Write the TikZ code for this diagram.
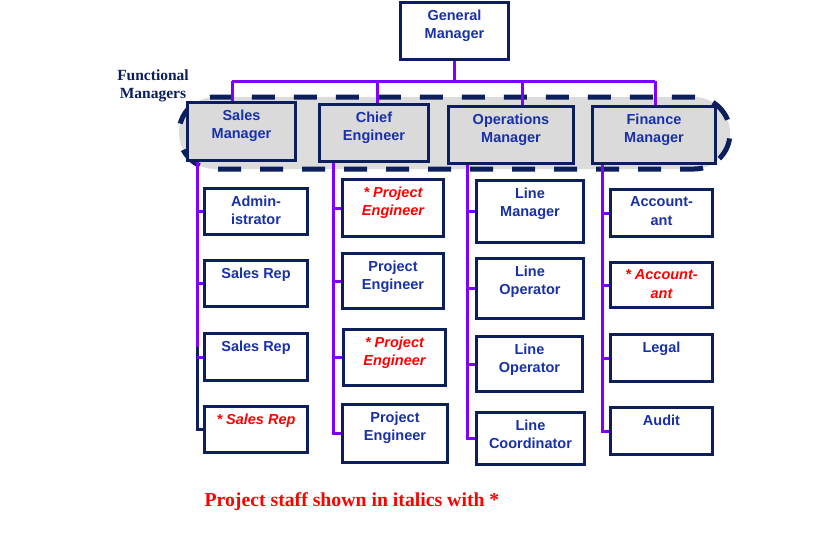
\documentclass[tikz,border=0pt]{standalone}
\usepackage{fontspec}
\setmainfont{Liberation Sans}
\newfontfamily\serifbold{Liberation Serif}
\definecolor{navy}{RGB}{12,30,92}
\definecolor{txtblue}{RGB}{24,48,168}
\definecolor{purp}{RGB}{128,0,255}
\definecolor{mgrgray}{RGB}{218,218,218}
\definecolor{grpgray}{RGB}{220,220,220}
\definecolor{projred}{RGB}{255,0,0}
\begin{document}
\begin{tikzpicture}[x=1pt,y=-1pt,
  box/.style={draw=navy, line width=3pt, fill=white, inner sep=0pt, anchor=north west},
  mgr/.style={box, fill=mgrgray},
  lbl/.style={anchor=north, inner sep=0pt, yshift=-8.5pt, text=txtblue, align=center,
    font=\fontsize{14.5}{18.5}\selectfont\bfseries},
  plbl/.style={lbl, text=projred, font=\fontsize{14.5}{18.5}\selectfont\bfseries\itshape},
  conn/.style={draw=purp, line width=3pt},
  connnavy/.style={draw=navy, line width=3pt},
  group/.style={draw=navy, line width=5pt, dash pattern=on 23pt off 19pt, dash phase=32.5pt,
    fill=grpgray}
]
\useasboundingbox[fill=white] (0,0) rectangle (840,542);

% functional manager group outline
\path[group] (179,133) arc[start angle=180, end angle=90, radius=36pt]
  -- (694,97) arc[start angle=90, end angle=-90, radius=36pt]
  -- (215,169) arc[start angle=270, end angle=180, radius=36pt] -- cycle;
\node[font=\serifbold\bfseries\fontsize{15.5}{18}\selectfont, text=navy, align=center, inner sep=0pt] (flab) at (153,86) {Functional\\Managers};

% general manager
\node[box, minimum width=108, minimum height=57, label={[lbl]north:{General\\Manager}}] (gm) at (399,1) {};

% managers
\node[mgr, minimum width=108, minimum height=58, label={[lbl]north:{Sales\\Manager}}] (sm) at (186,101) {};
\node[mgr, minimum width=109, minimum height=57, label={[lbl]north:{Chief\\Engineer}}] (ce) at (318,103) {};
\node[mgr, minimum width=125, minimum height=57, label={[lbl]north:{Operations\\Manager}}] (om) at (447,105) {};
\node[mgr, minimum width=123, minimum height=57, label={[lbl]north:{Finance\\Manager}}] (fm) at (591,105) {};

% sales column
\node[box, minimum width=103, minimum height=46, label={[lbl]north:{Admin-\\istrator}}] (s1) at (203,187) {};
\node[box, minimum width=103, minimum height=46, label={[lbl]north:{Sales Rep}}] (s2) at (203,259) {};
\node[box, minimum width=103, minimum height=47, label={[lbl]north:{Sales Rep}}] (s3) at (203,332) {};
\node[box, minimum width=103, minimum height=46, label={[plbl]north:{* Sales Rep}}] (s4) at (203,405) {};

% engineering column
\node[box, minimum width=101, minimum height=57, label={[plbl]north:{* Project\\Engineer}}] (c1) at (341,178) {};
\node[box, minimum width=101, minimum height=55, label={[lbl]north:{Project\\Engineer}}] (c2) at (341,252) {};
\node[box, minimum width=102, minimum height=56, label={[plbl]north:{* Project\\Engineer}}] (c3) at (342,328) {};
\node[box, minimum width=105, minimum height=58, label={[lbl]north:{Project\\Engineer}}] (c4) at (341,403) {};

% operations column
\node[box, minimum width=107, minimum height=62, label={[lbl]north:{Line\\Manager}}] (o1) at (475,179) {};
\node[box, minimum width=107, minimum height=60, label={[lbl]north:{Line\\Operator}}] (o2) at (475,257) {};
\node[box, minimum width=106, minimum height=55, label={[lbl]north:{Line\\Operator}}] (o3) at (475,335) {};
\node[box, minimum width=108, minimum height=52, label={[lbl]north:{Line\\Coordinator}}] (o4) at (475,411) {};

% finance column
\node[box, minimum width=102, minimum height=47, label={[lbl]north:{Account-\\ant}}] (f1) at (609,188) {};
\node[box, minimum width=102, minimum height=45, label={[plbl]north:{* Account-\\ant}}] (f2) at (609,261) {};
\node[box, minimum width=102, minimum height=47, label={[lbl]north:{Legal}}] (f3) at (609,333) {};
\node[box, minimum width=102, minimum height=47, label={[lbl]north:{Audit}}] (f4) at (609,406) {};

% caption
\node[font=\serifbold\bfseries\fontsize{19.75}{22}\selectfont, text=projred, inner sep=0pt] (cap) at (352,502) {Project staff shown in italics with *};

% top connectors
\coordinate (d1) at (232,81);
\coordinate (d2) at (377,81);
\coordinate (d3) at (522,81);
\coordinate (d4) at (655,81);
\draw[conn] (d1) -- (d4);
\draw[conn] (gm.south) -- (gm.south |- d1);
\draw[conn] (d1) -- (d1 |- sm.north);
\draw[conn] (d2) -- (d2 |- ce.north);
\draw[conn] (d3) -- (d3 |- om.north);
\draw[conn] (d4) -- (d4 |- fm.north);

% column connectors
\coordinate (sx) at (197,0);
\coordinate (cx) at (333,0);
\coordinate (ox) at (467,0);
\coordinate (fx) at (602,0);
\coordinate (sv) at (sx |- sm.south);
\coordinate (cv) at (cx |- ce.south);
\coordinate (ov) at (ox |- om.south);
\coordinate (fv) at (fx |- fm.south);
\coordinate (sbrk) at (197,347);

\draw[conn] (sv) -- (sbrk);
\draw[connnavy] (sbrk) |- (s4.west);
\foreach \b in {s1,s2,s3} \draw[conn] (sv |- \b.west) -- (\b.west);

\draw[conn] (cv) |- (c4.west);
\foreach \b in {c1,c2,c3} \draw[conn] (cv |- \b.west) -- (\b.west);

\draw[conn] (ov) |- (o4.west);
\foreach \b in {o1,o2,o3} \draw[conn] (ov |- \b.west) -- (\b.west);

\draw[conn] (fv) |- (f4.west);
\foreach \b in {f1,f2,f3} \draw[conn] (fv |- \b.west) -- (\b.west);
\end{tikzpicture}
\end{document}
